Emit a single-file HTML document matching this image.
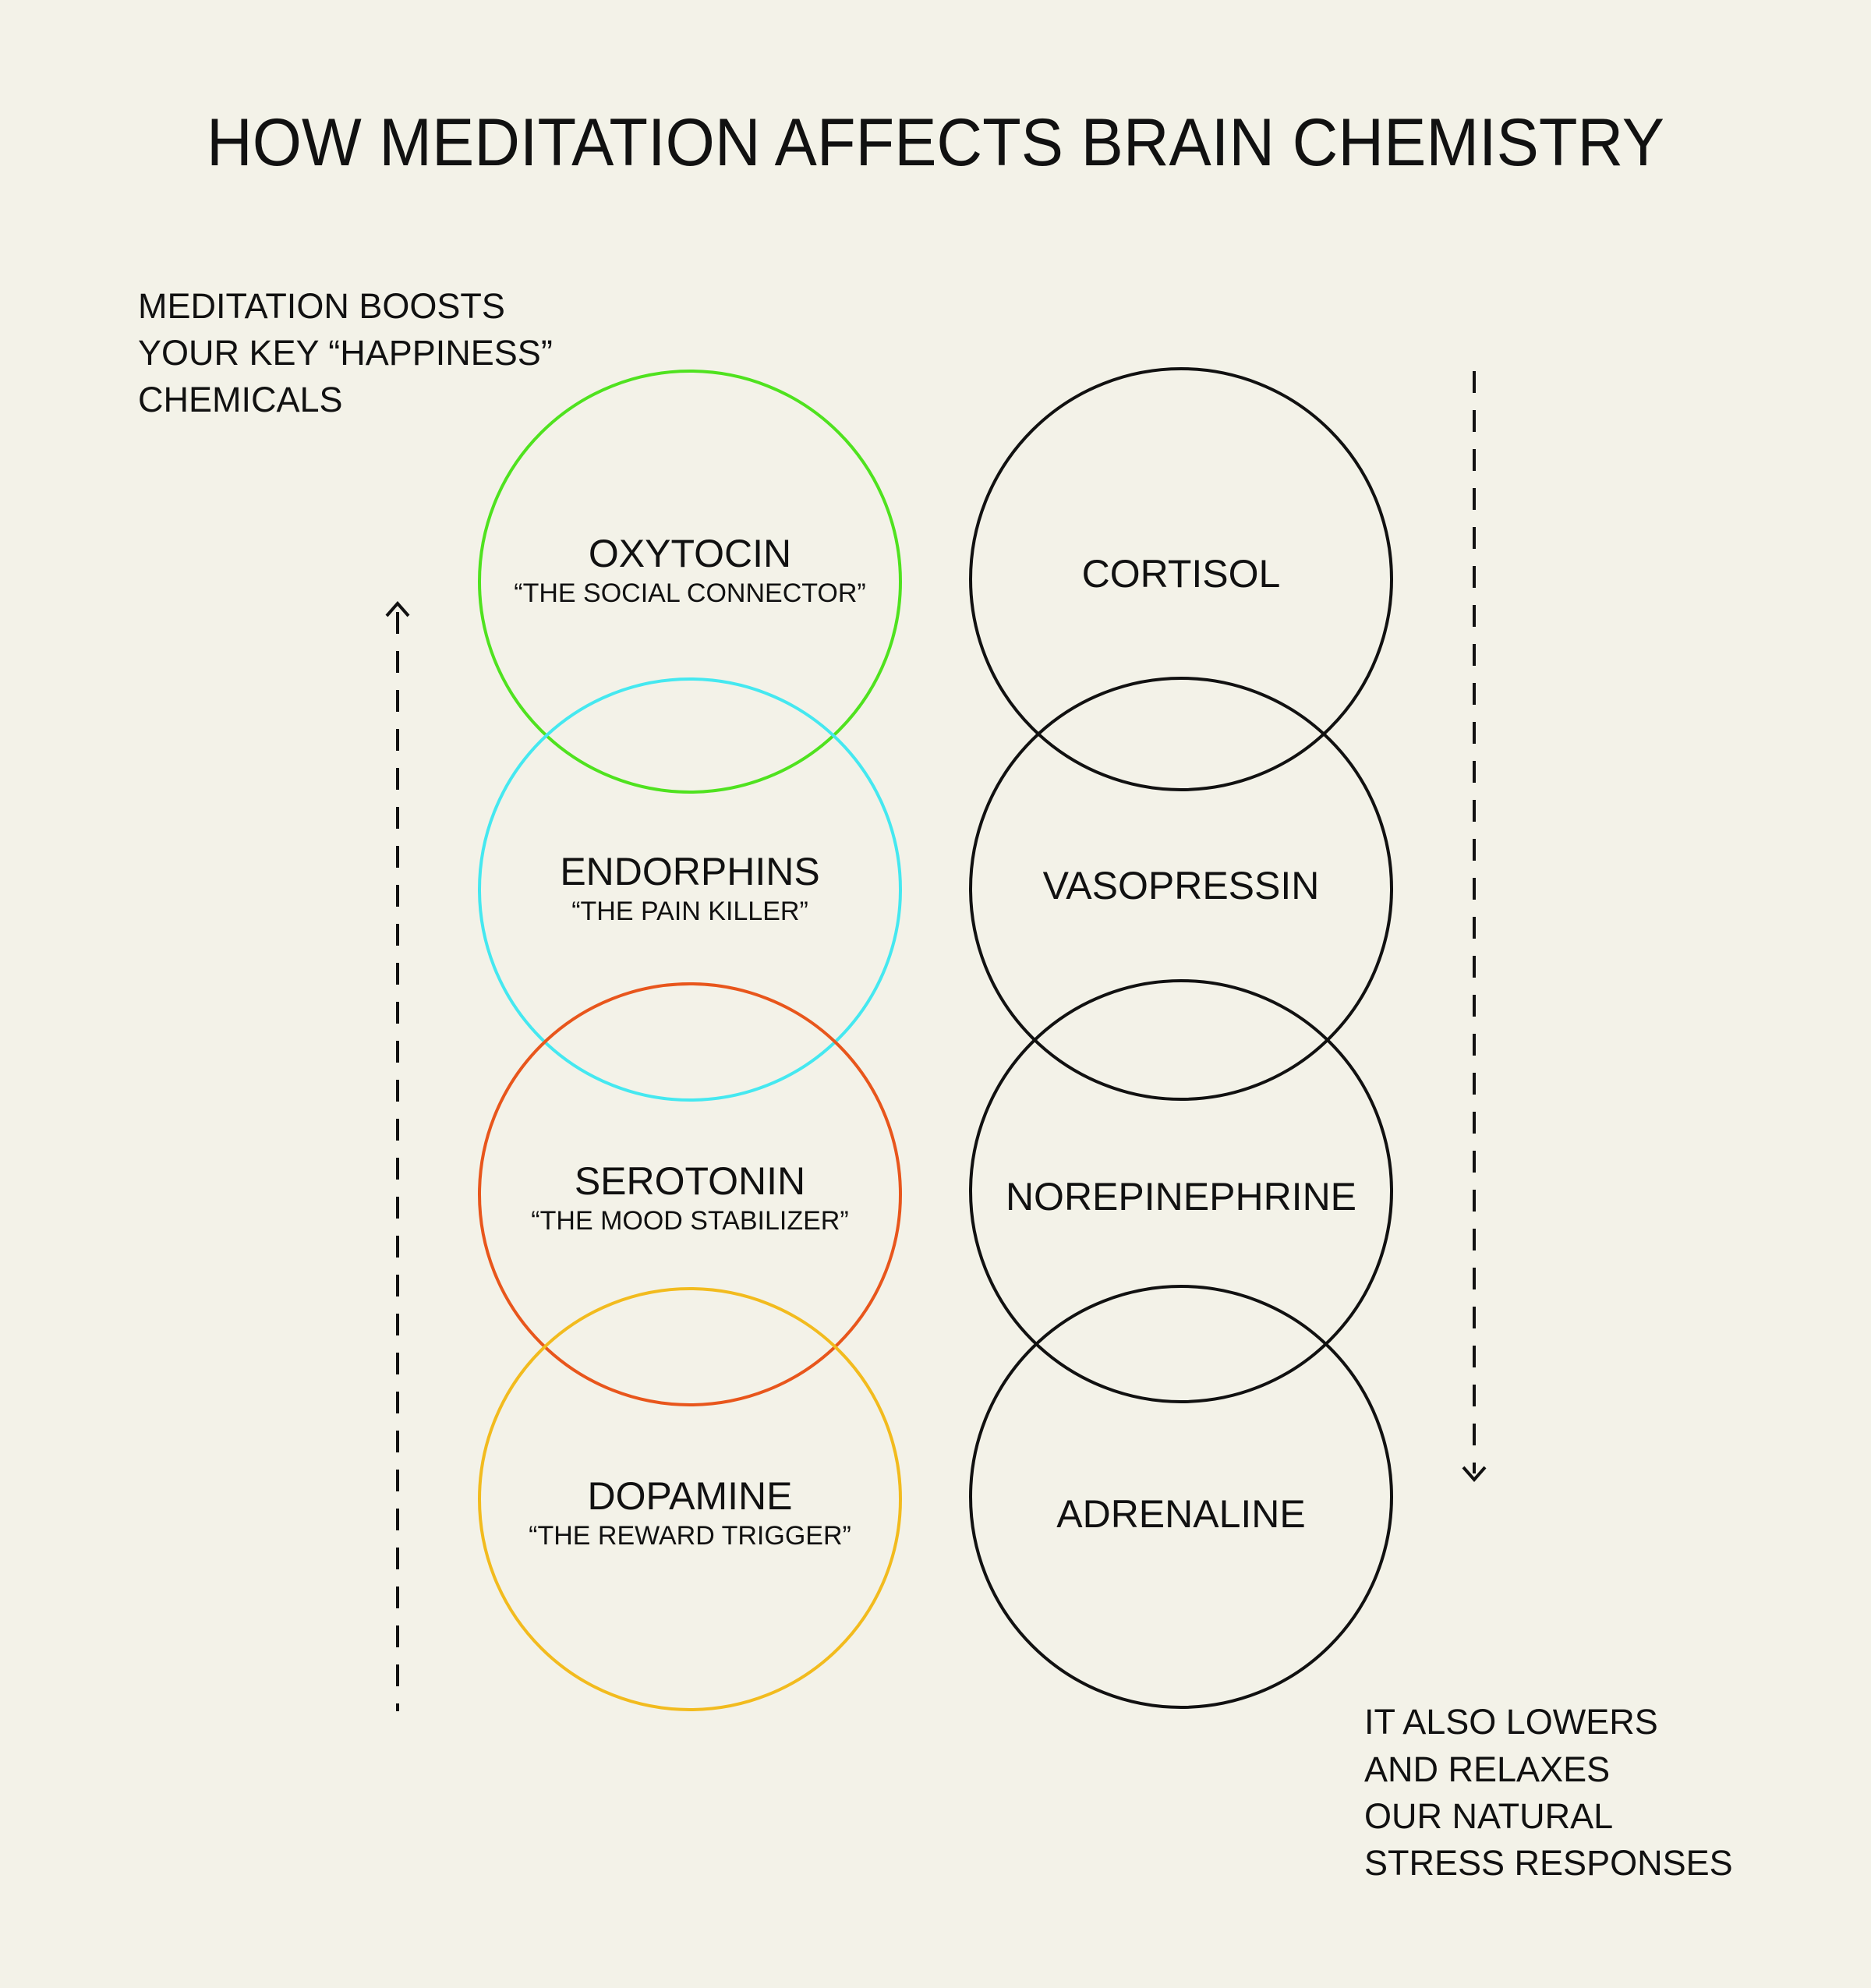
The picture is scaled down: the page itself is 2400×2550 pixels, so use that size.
<!DOCTYPE html>
<html><head><meta charset="utf-8"><style>
html,body{margin:0;padding:0;background:#f3f2e8;}
svg{display:block}
text{font-family:"Liberation Sans",sans-serif;fill:#111;}
</style></head><body>
<svg width="2400" height="2550" viewBox="0 0 2400 2550" xmlns="http://www.w3.org/2000/svg">
<rect width="2400" height="2550" fill="#f3f2e8"/>
<text x="1200" y="212" font-size="86" text-anchor="middle" textLength="1870" lengthAdjust="spacingAndGlyphs">HOW MEDITATION AFFECTS BRAIN CHEMISTRY</text>

<g font-size="45">
<text x="177" y="408">MEDITATION BOOSTS</text>
<text x="177" y="468">YOUR KEY “HAPPINESS”</text>
<text x="177" y="528">CHEMICALS</text>
<text x="1750" y="2224">IT ALSO LOWERS</text>
<text x="1750" y="2285">AND RELAXES</text>
<text x="1750" y="2345">OUR NATURAL</text>
<text x="1750" y="2405">STRESS RESPONSES</text>
</g>

<g fill="none" stroke-width="4">
<circle cx="885" cy="746" r="270" stroke="#4fe21f"/>
<circle cx="885" cy="1141" r="270" stroke="#45e8f0"/>
<circle cx="885" cy="1532" r="270" stroke="#e8561c"/>
<circle cx="885" cy="1923" r="270" stroke="#f2bb1e"/>
<circle cx="1515" cy="743" r="270" stroke="#111"/>
<circle cx="1515" cy="1140" r="270" stroke="#111"/>
<circle cx="1515" cy="1528" r="270" stroke="#111"/>
<circle cx="1515" cy="1920" r="270" stroke="#111"/>
</g>

<g stroke="#111" stroke-width="4" fill="none">
<line x1="510" y1="785" x2="510" y2="2195" stroke-dasharray="28 22"/>
<polyline points="496,790 510,774 524,790"/>
<line x1="1891" y1="476" x2="1891" y2="1890" stroke-dasharray="28 22"/>
<polyline points="1877,1882 1891,1898 1905,1882"/>
</g>

<g text-anchor="middle">
<text x="885" y="727" font-size="50">OXYTOCIN</text>
<text x="885" y="772" font-size="34">“THE SOCIAL CONNECTOR”</text>
<text x="885" y="1135" font-size="50">ENDORPHINS</text>
<text x="885" y="1180" font-size="34">“THE PAIN KILLER”</text>
<text x="885" y="1532" font-size="50">SEROTONIN</text>
<text x="885" y="1577" font-size="34">“THE MOOD STABILIZER”</text>
<text x="885" y="1936" font-size="50">DOPAMINE</text>
<text x="885" y="1981" font-size="34">“THE REWARD TRIGGER”</text>
<text x="1515" y="753" font-size="50">CORTISOL</text>
<text x="1515" y="1153" font-size="50">VASOPRESSIN</text>
<text x="1515" y="1552" font-size="50">NOREPINEPHRINE</text>
<text x="1515" y="1959" font-size="50">ADRENALINE</text>
</g>
</svg>
</body></html>
